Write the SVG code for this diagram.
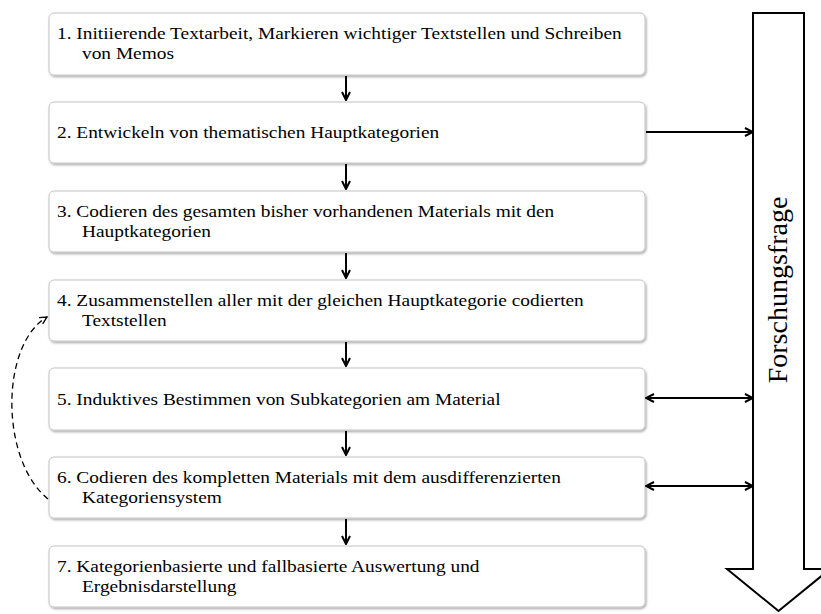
<svg xmlns="http://www.w3.org/2000/svg" width="821" height="614" viewBox="0 0 821 614">
  <style>
    .box { fill: #ffffff; stroke: #c4c4c4; stroke-width: 1; filter: url(#shadow); }
    .lbl { font-family: "Liberation Serif", "Times New Roman", serif; font-size: 17.6px; fill: #000; }
    .con { fill: none; stroke: #000; stroke-width: 2; }
    .dash { fill: none; stroke: #000; stroke-width: 1.3; stroke-dasharray: 6 4; }
  </style>
  <defs>
    <filter id="shadow" x="-5%" y="-20%" width="110%" height="150%">
      <feDropShadow dx="1" dy="1.5" stdDeviation="1" flood-color="#000" flood-opacity="0.35"/>
    </filter>
    <marker id="head" viewBox="0 0 10 10" refX="9" refY="5" markerWidth="10" markerHeight="10" markerUnits="userSpaceOnUse" orient="auto-start-reverse">
      <path d="M1,1 L9,5 L1,9" fill="none" stroke="#000" stroke-width="2"/>
    </marker>
    <marker id="headThin" viewBox="0 0 10 10" refX="9" refY="5" markerWidth="9" markerHeight="9" markerUnits="userSpaceOnUse" orient="auto">
      <path d="M1,1 L9,5 L1,9" fill="none" stroke="#000" stroke-width="1.5"/>
    </marker>
  </defs>

  <!-- process steps; labels are set slightly wide (horizontal scale 1.1) -->
  <g id="step1">
    <rect class="box" x="49" y="13" width="596" height="62" rx="5"/>
    <text class="lbl" transform="translate(57 39) scale(1.1 1)">1. Initiierende Textarbeit, Markieren wichtiger Textstellen und Schreiben</text>
    <text class="lbl" transform="translate(82 59) scale(1.1 1)">von Memos</text>
  </g>
  <g id="step2">
    <rect class="box" x="49" y="102" width="596" height="61" rx="5"/>
    <text class="lbl" transform="translate(57 138) scale(1.1 1)">2. Entwickeln von thematischen Hauptkategorien</text>
  </g>
  <g id="step3">
    <rect class="box" x="49" y="191" width="596" height="61" rx="5"/>
    <text class="lbl" transform="translate(57 217) scale(1.1 1)">3. Codieren des gesamten bisher vorhandenen Materials mit den</text>
    <text class="lbl" transform="translate(82 237) scale(1.1 1)">Hauptkategorien</text>
  </g>
  <g id="step4">
    <rect class="box" x="49" y="280" width="596" height="61" rx="5"/>
    <text class="lbl" transform="translate(57 306) scale(1.1 1)">4. Zusammenstellen aller mit der gleichen Hauptkategorie codierten</text>
    <text class="lbl" transform="translate(82 326) scale(1.1 1)">Textstellen</text>
  </g>
  <g id="step5">
    <rect class="box" x="49" y="368" width="596" height="62" rx="5"/>
    <text class="lbl" transform="translate(57 405) scale(1.1 1)">5. Induktives Bestimmen von Subkategorien am Material</text>
  </g>
  <g id="step6">
    <rect class="box" x="49" y="457" width="596" height="61" rx="5"/>
    <text class="lbl" transform="translate(57 483) scale(1.1 1)">6. Codieren des kompletten Materials mit dem ausdifferenzierten</text>
    <text class="lbl" transform="translate(82 503) scale(1.1 1)">Kategoriensystem</text>
  </g>
  <g id="step7">
    <rect class="box" x="49" y="546" width="596" height="61" rx="5"/>
    <text class="lbl" transform="translate(57 572) scale(1.1 1)">7. Kategorienbasierte und fallbasierte Auswertung und</text>
    <text class="lbl" transform="translate(82 592) scale(1.1 1)">Ergebnisdarstellung</text>
  </g>

  <!-- research question block arrow -->
  <g id="forschungsfrage">
    <path d="M753,13 L804,13 L804,569 L830,569 L778.5,611 L727,569 L753,569 Z" fill="#fff" stroke="#000" stroke-width="2"/>
    <text transform="translate(787,290) rotate(-90)" text-anchor="middle" font-family="Liberation Serif, Times New Roman, serif" font-size="28" fill="#000">Forschungsfrage</text>
  </g>

  <!-- connectors -->
  <g id="connectors">
    <line class="con" x1="346" y1="76" x2="346" y2="100" marker-end="url(#head)"/>
    <line class="con" x1="346" y1="164" x2="346" y2="189" marker-end="url(#head)"/>
    <line class="con" x1="346" y1="253" x2="346" y2="278" marker-end="url(#head)"/>
    <line class="con" x1="346" y1="342" x2="346" y2="366" marker-end="url(#head)"/>
    <line class="con" x1="346" y1="431" x2="346" y2="455" marker-end="url(#head)"/>
    <line class="con" x1="346" y1="519" x2="346" y2="544" marker-end="url(#head)"/>
    <line class="con" x1="646" y1="132" x2="753" y2="132" marker-end="url(#head)"/>
    <line class="con" x1="646" y1="398" x2="753" y2="398" marker-start="url(#head)" marker-end="url(#head)"/>
    <line class="con" x1="646" y1="486" x2="753" y2="486" marker-start="url(#head)" marker-end="url(#head)"/>
    <path class="dash" d="M48,499 C0,460 0,345 47,317" marker-end="url(#headThin)"/>
  </g>
</svg>
